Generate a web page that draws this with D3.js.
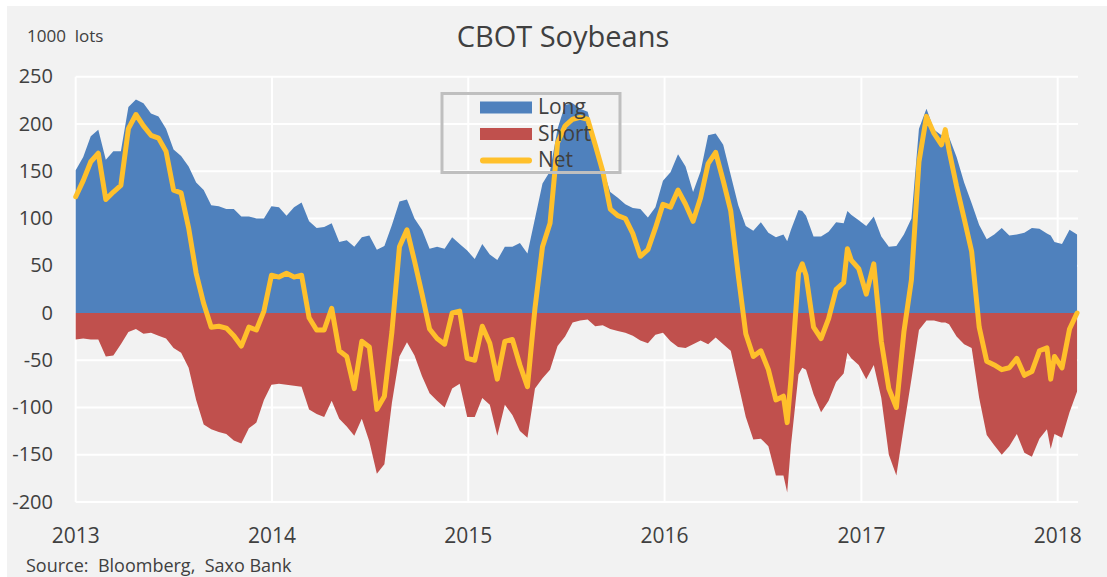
<!DOCTYPE html>
<html>
<head>
<meta charset="utf-8">
<script src="https://cdn.jsdelivr.net/npm/d3@7/dist/d3.min.js"></script>
<style>
html,body{margin:0;padding:0;background:#fff;}
svg{display:block;}
text{font-family:"Open Sans",sans-serif;fill:#404040;}
</style>
</head>
<body>
<svg id="chart" width="1107" height="577"></svg>
<script>
// Week index since 2013-01-01
const weeks = [0,2,4,6,8,10,12,14,16,18,20,22,24,26,28,30,32,34,36,38,40,42,44,46,48,50,
  52,54,56,58,60,62,64,66,68,70,72,74,76,78,80,82,84,86,88,90,92,94,96,98,100,
  102,104,106,108,110,112,114,116,118,120,122,124,126,128,130,132,134,136,138,140,
  142,144,146,148,150,152,154,156,158,160,162,164,166,168,170,172,174,176,178,180,
  182,184,186,188,189,190,192,193,194,196,198,200,202,204,205,206,208,210,212,214,216,218,220,
  222,224,226,228,230,231,232,234,236,238,240,242,244,246,248,250,252,254,256,258,259,260,262,264,266];
const longPos = [151,165,187,194,162,171,171,218,226,222,211,208,195,173,166,155,138,130,114,113,110,110,102,102,100,100,
  113,112,103,112,117,97,90,91,95,75,77,70,80,82,67,71,93,118,120,100,88,68,70,68,80,
  73,66,57,73,62,56,70,70,74,63,100,137,150,195,220,222,216,213,183,153,
  128,122,115,111,110,101,112,140,149,168,155,128,150,188,190,178,146,114,92,87,
  96,85,80,83,76,88,109,108,103,81,81,86,96,95,108,104,98,92,102,81,70,71,83,
  100,195,216,194,188,196,186,165,138,116,93,78,83,90,82,83,85,90,89,84,82,75,73,88,83];
const shortPos = [-28,-27,-28,-28,-46,-45,-33,-20,-17,-22,-21,-24,-27,-37,-42,-58,-92,-118,-123,-126,-128,-135,-138,-122,-116,-92,
  -76,-75,-76,-77,-78,-102,-107,-110,-93,-112,-120,-130,-112,-136,-170,-160,-95,-46,-31,-45,-67,-85,-93,-100,-80,
  -75,-110,-110,-90,-97,-130,-97,-108,-125,-132,-80,-69,-60,-35,-25,-10,-8,-7,-14,-13,
  -17,-19,-21,-24,-29,-32,-23,-21,-30,-36,-37,-33,-29,-33,-26,-33,-40,-75,-110,-134,
  -133,-141,-172,-172,-190,-140,-65,-58,-60,-86,-105,-93,-73,-64,-42,-48,-55,-70,-55,-90,-150,-172,-120,
  -70,-18,-8,-8,-10,-10,-12,-25,-33,-37,-90,-129,-140,-150,-141,-128,-148,-152,-133,-123,-144,-128,-132,-105,-83];
const netPos = [123,140,160,169,120,128,135,195,210,198,188,185,171,130,127,90,42,10,-15,-14,-16,-24,-35,-15,-18,2,
  40,38,42,38,40,-5,-18,-18,5,-40,-46,-80,-30,-36,-102,-88,-20,70,88,55,20,-17,-27,-33,0,
  2,-48,-50,-14,-32,-70,-30,-28,-55,-78,5,70,95,180,198,205,207,205,178,150,
  110,103,100,84,60,67,90,115,112,130,115,97,122,158,170,140,108,40,-22,-46,
  -40,-60,-92,-88,-116,-70,42,52,40,-15,-27,-6,25,32,68,56,47,20,52,-30,-80,-100,-20,
  35,160,208,190,178,194,172,134,100,65,-15,-51,-55,-60,-58,-48,-66,-62,-40,-37,-70,-46,-58,-17,0];
const yTicks = [250,200,150,100,50,0,-50,-100,-150,-200];
const xYears = [2013,2014,2015,2016,2017,2018];
const seriesNames = ["Long","Short","Net"];
const colors = {Long:"#4f81bd", Short:"#c0504d", Net:"#ffc02b"};

const start = new Date(2013,0,1);
const data = weeks.map((w,i)=>({date:d3.timeDay.offset(start,7*w), long:longPos[i], short:shortPos[i], net:netPos[i]}));

const svg = d3.select("#chart");
svg.append("rect").attr("x",7).attr("y",6).attr("width",1100).attr("height",571).attr("fill","#f2f2f2");

const x = d3.scaleTime().domain([new Date(2013,0,1), new Date(2018,0,1)]).range([75.7,1057.7]);
const y = d3.scaleLinear().domain([-200,250]).range([502,76.7]);
const plotRight = 1078;

// grid
const g = svg.append("g");
g.selectAll("line.h").data(yTicks).join("line")
  .attr("x1",75.7).attr("x2",plotRight).attr("y1",d=>y(d)).attr("y2",d=>y(d))
  .attr("stroke","#ffffff").attr("stroke-width",2);
g.selectAll("line.v").data(xYears).join("line")
  .attr("x1",d=>x(new Date(d,0,1))).attr("x2",d=>x(new Date(d,0,1)))
  .attr("y1",y(250)).attr("y2",y(-200))
  .attr("stroke","#ffffff").attr("stroke-width",2);

// areas
const areaLong = d3.area().x(d=>x(d.date)).y0(y(0)).y1(d=>y(d.long));
const areaShort = d3.area().x(d=>x(d.date)).y0(y(0)).y1(d=>y(d.short));
svg.append("path").datum(data).attr("d",areaLong).attr("fill",colors.Long);
svg.append("path").datum(data).attr("d",areaShort).attr("fill",colors.Short);
const line = d3.line().x(d=>x(d.date)).y(d=>y(d.net));
svg.append("path").datum(data).attr("d",line).attr("fill","none")
  .attr("stroke",colors.Net).attr("stroke-width",5).attr("stroke-linejoin","round").attr("stroke-linecap","round");

// axes labels
svg.append("g").selectAll("text").data(yTicks).join("text")
  .attr("x",53).attr("y",d=>y(d)).attr("dy","0.33em").attr("text-anchor","end")
  .attr("font-size",20).text(d=>d);
svg.append("g").selectAll("text").data(xYears).join("text")
  .attr("x",d=>x(new Date(d,0,1))).attr("y",543).attr("text-anchor","middle")
  .attr("font-size",21).text(d=>d);

// titles
svg.append("text").attr("x",563).attr("y",47).attr("text-anchor","middle").attr("font-size",29).text("CBOT Soybeans");
svg.append("text").attr("x",27).attr("y",42).attr("font-size",17).style("white-space","pre").text("1000  lots");
svg.append("text").attr("x",26).attr("y",572).attr("font-size",18).style("white-space","pre").text("Source:  Bloomberg,  Saxo Bank");

// legend
const lg = svg.append("g");
lg.append("rect").attr("x",442).attr("y",93.5).attr("width",178).attr("height",79)
  .attr("fill","none").attr("stroke","#bfbfbf").attr("stroke-width",3);
seriesNames.forEach((n,i)=>{
  const cy = 107.5 + i*26.5;
  if(n==="Net"){
    lg.append("line").attr("x1",483).attr("x2",529).attr("y1",cy).attr("y2",cy)
      .attr("stroke",colors.Net).attr("stroke-width",6).attr("stroke-linecap","round");
  } else {
    lg.append("rect").attr("x",480).attr("y",cy-6).attr("width",52).attr("height",12).attr("fill",colors[n]);
  }
  lg.append("text").attr("x",538).attr("y",cy+6.5).attr("font-size",21).text(n);
});
</script>
</body>
</html>
